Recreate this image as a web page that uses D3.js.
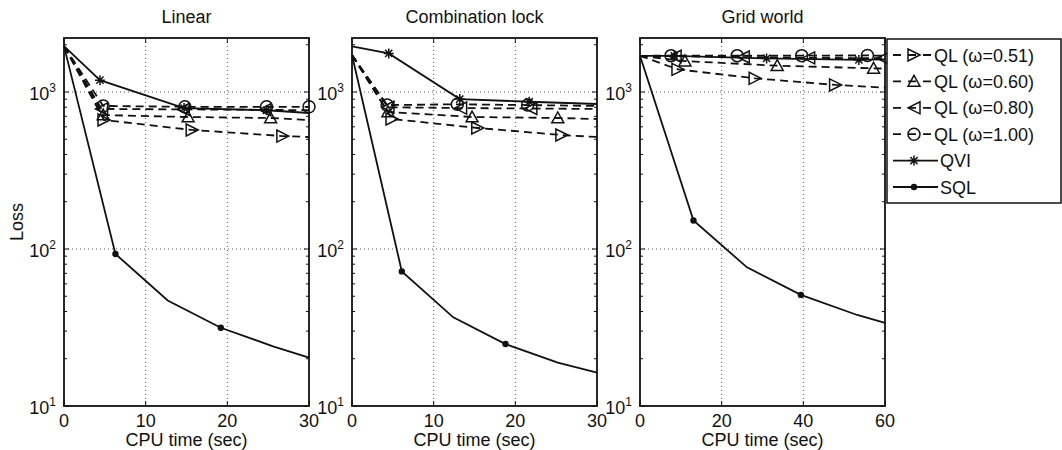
<!DOCTYPE html>
<html>
<head>
<meta charset="utf-8">
<script src="https://cdn.jsdelivr.net/npm/d3@7"></script>
<style>
  body { margin: 0; background: #fff; }
  svg { display: block; font-family: "Liberation Sans", Arial, sans-serif; }
</style>
</head>
<body>
<svg id="chart" width="1062" height="450"></svg>
<script>
// panel titles and x axes
const panelTitles = ["Linear", "Combination lock", "Grid world"];
const panelXMax = [30, 30, 60];
const panelXTicks = [[0, 10, 20, 30], [0, 10, 20, 30], [0, 20, 40, 60]];
const yTicks = [10, 100, 1000];

// series, in legend order
const seriesNames = ["QL (\u03c9=0.51)", "QL (\u03c9=0.60)", "QL (\u03c9=0.80)", "QL (\u03c9=1.00)", "QVI", "SQL"];
const seriesMarkers = [">", "^", "<", "o", "*", "."];
const seriesDashed = [true, true, true, true, false, false];

// [cpu time, loss] points per series
const linearPts = [
    [[0, 1960], [4.9, 663], [15.7, 573], [26.8, 524], [30, 517]],
    [[0, 1960], [4.8, 713], [15.2, 693], [25.3, 683], [30, 663]],
    [[0, 1960], [4.6, 780], [14.6, 775], [24.6, 770], [30, 765]],
    [[0, 1960], [4.8, 815], [14.8, 805], [24.8, 805], [30, 805]],
    [[0, 1960], [4.4, 1190], [14.7, 790], [24.8, 765], [30, 735]],
    [[0, 1960], [6.3, 93], [12.7, 47], [19.2, 31.5], [25.6, 24], [30, 20.3]]
];
const linearMarks = [[1, 2, 3], [1, 2, 3], [1, 2, 3], [1, 2, 3, 4], [1, 2, 3], [1, 3]];

const comboPts = [
    [[0, 1720], [4.9, 673], [15.4, 590], [25.7, 532], [30, 517]],
    [[0, 1720], [4.4, 747], [14.7, 693], [25.2, 683], [30, 673]],
    [[0, 1720], [4.4, 800], [13.3, 790], [21.9, 785], [30, 780]],
    [[0, 1720], [4.3, 826], [12.9, 835], [21.5, 826], [30, 815]],
    [[0, 1950], [4.5, 1762], [13.2, 902], [21.7, 867], [30, 839]],
    [[0, 1720], [6.1, 72], [12.4, 36.7], [18.8, 24.8], [25.2, 18.9], [30, 16.3]]
];
const comboMarks = [[1, 2, 3], [1, 2, 3], [1, 2, 3], [1, 2, 3], [1, 2, 3], [1, 3]];

const gridPts = [
    [[0, 1700], [9.3, 1393], [28.2, 1222], [47.9, 1109], [60, 1065]],
    [[0, 1700], [11, 1574], [33.6, 1471], [57.2, 1415], [60, 1410]],
    [[0, 1700], [8.6, 1690], [25.3, 1670], [41.3, 1650], [59.5, 1640], [60, 1640]],
    [[0, 1700], [7.6, 1705], [23.8, 1705], [39.6, 1705], [55.7, 1710], [60, 1700]],
    [[0, 1700], [8.4, 1700], [31, 1637], [53.6, 1600], [60, 1615]],
    [[0, 1700], [13.1, 152], [26.2, 76.4], [39.4, 51], [53.2, 38], [60, 33.9]]
];
const gridMarks = [[1, 2, 3], [1, 2, 3], [1, 2, 3, 4], [1, 2, 3, 4], [1, 2, 3], [1, 3]];

const panelPts = [linearPts, comboPts, gridPts];
const panelMarks = [linearMarks, comboMarks, gridMarks];

const svg = d3.select("#chart");
const plotTop = 38, plotBottom = 406, plotW = 245;
const panelLeft = [64, 352, 640];

const y = d3.scaleLog().domain([10, 2208]).range([plotBottom, plotTop]);

function drawMarker(g, type, cx, cy) {
    const s = 6;
    const m = g.append("g").attr("transform", `translate(${cx},${cy})`)
        .attr("fill", "none").attr("stroke", "#111").attr("stroke-width", 1.5);
    if (type === ">") m.append("path").attr("d", `M${s},0L${-s},${-s}L${-s},${s}Z`);
    else if (type === "<") m.append("path").attr("d", `M${-s},0L${s},${-s}L${s},${s}Z`);
    else if (type === "^") m.append("path").attr("d", `M0,${-s}L${s},${s * 0.8}L${-s},${s * 0.8}Z`);
    else if (type === "o") m.append("circle").attr("r", s);
    else if (type === "*") {
        const r = 5, d = r * 0.72;
        m.append("path").attr("d", `M0,${-r}V${r}M${-r},0H${r}M${-d},${-d}L${d},${d}M${-d},${d}L${d},${-d}`);
    } else if (type === ".") m.append("circle").attr("r", 3.2).attr("fill", "#111").attr("stroke", "none");
}

panelTitles.forEach((title, p) => {
    const left = panelLeft[p];
    const x = d3.scaleLinear().domain([0, panelXMax[p]]).range([left, left + plotW]);
    const g = svg.append("g");

    // grid
    panelXTicks[p].slice(1, -1).forEach(t => {
        g.append("line").attr("x1", x(t)).attr("x2", x(t)).attr("y1", plotTop).attr("y2", plotBottom)
            .attr("stroke", "#555").attr("stroke-width", 1).attr("stroke-dasharray", "1,3");
    });
    [100, 1000].forEach(t => {
        g.append("line").attr("x1", left).attr("x2", left + plotW).attr("y1", y(t)).attr("y2", y(t))
            .attr("stroke", "#555").attr("stroke-width", 1).attr("stroke-dasharray", "1,3");
    });

    // ticks (inside, both sides)
    const minor = [];
    [10, 100, 1000].forEach(dec => { for (let k = 2; k <= 9; k++) if (dec * k < 2208) minor.push(dec * k); });
    minor.forEach(t => {
        g.append("line").attr("x1", left).attr("x2", left + 3).attr("y1", y(t)).attr("y2", y(t)).attr("stroke", "#111");
        g.append("line").attr("x1", left + plotW).attr("x2", left + plotW - 3).attr("y1", y(t)).attr("y2", y(t)).attr("stroke", "#111");
    });
    yTicks.forEach(t => {
        g.append("line").attr("x1", left).attr("x2", left + 5).attr("y1", y(t)).attr("y2", y(t)).attr("stroke", "#111");
        g.append("line").attr("x1", left + plotW).attr("x2", left + plotW - 5).attr("y1", y(t)).attr("y2", y(t)).attr("stroke", "#111");
        const lab = g.append("text").attr("x", left - 8).attr("y", y(t) + 8)
            .attr("text-anchor", "end").attr("font-size", 18).attr("fill", "#111");
        lab.append("tspan").text("10");
        lab.append("tspan").attr("dy", -8).attr("font-size", 12).text(Math.round(Math.log10(t)));
    });
    panelXTicks[p].forEach(t => {
        g.append("line").attr("x1", x(t)).attr("x2", x(t)).attr("y1", plotBottom).attr("y2", plotBottom - 5).attr("stroke", "#111");
        g.append("line").attr("x1", x(t)).attr("x2", x(t)).attr("y1", plotTop).attr("y2", plotTop + 5).attr("stroke", "#111");
        g.append("text").attr("x", x(t)).attr("y", 427).attr("text-anchor", "middle")
            .attr("font-size", 18).attr("fill", "#111").text(t);
    });

    // series
    const line = d3.line().x(d => x(d[0])).y(d => y(d[1]));
    panelPts[p].forEach((pts, s) => {
        g.append("path").datum(pts).attr("d", line)
            .attr("fill", "none").attr("stroke", "#111").attr("stroke-width", 1.8)
            .attr("stroke-dasharray", seriesDashed[s] ? "8,5" : null);
        panelMarks[p][s].forEach(i => drawMarker(g, seriesMarkers[s], x(pts[i][0]), y(pts[i][1])));
    });

    // box
    g.append("rect").attr("x", left).attr("y", plotTop).attr("width", plotW).attr("height", plotBottom - plotTop)
        .attr("fill", "none").attr("stroke", "#111").attr("stroke-width", 1.8);

    g.append("text").attr("x", left + plotW / 2).attr("y", 23).attr("text-anchor", "middle")
        .attr("font-size", 18).attr("fill", "#111").text(title);
    g.append("text").attr("x", left + plotW / 2).attr("y", 446).attr("text-anchor", "middle")
        .attr("font-size", 18).attr("fill", "#111").text("CPU time (sec)");
});

svg.append("text").attr("transform", "translate(23,222) rotate(-90)").attr("text-anchor", "middle")
    .attr("font-size", 18).attr("fill", "#111").text("Loss");

// legend
const legend = svg.append("g");
legend.append("rect").attr("x", 887).attr("y", 39).attr("width", 174).attr("height", 164)
    .attr("fill", "#fff").attr("stroke", "#111").attr("stroke-width", 1.5);
seriesNames.forEach((name, s) => {
    const ly = 55 + s * 26.4;
    legend.append("line").attr("x1", 893).attr("x2", seriesDashed[s] ? 932 : 938).attr("y1", ly).attr("y2", ly)
        .attr("stroke", "#111").attr("stroke-width", 1.8)
        .attr("stroke-dasharray", seriesDashed[s] ? "8,7" : null);
    drawMarker(legend, seriesMarkers[s], 914, ly);
    legend.append("text").attr("x", seriesDashed[s] ? 934 : 940).attr("y", ly + 6.5)
        .attr("font-size", 18).attr("fill", "#111").text(name);
});
</script>
</body>
</html>
